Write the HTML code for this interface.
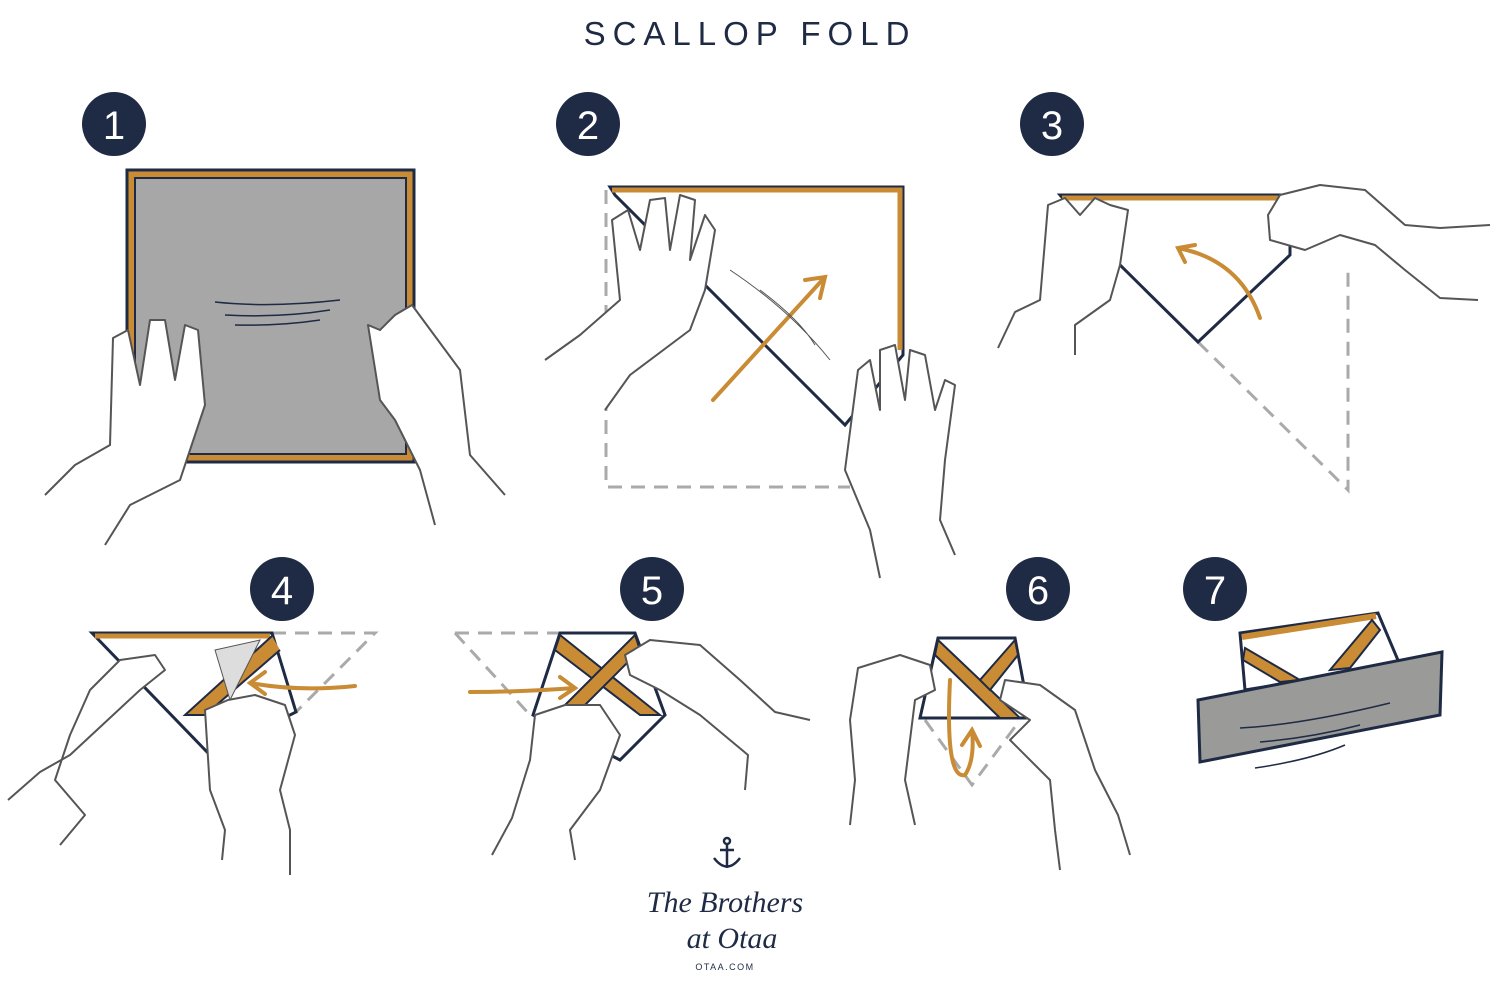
<!DOCTYPE html>
<html><head><meta charset="utf-8"><style>
html,body{margin:0;padding:0;background:#fff;}
svg{display:block;}
.n{font-family:"Liberation Sans",sans-serif;font-size:40px;fill:#fff;text-anchor:middle;}
.h{fill:#fff;stroke:#555;stroke-width:2;stroke-linejoin:round;}
.d{fill:none;stroke:#aaa;stroke-width:3;stroke-dasharray:14 9;}
.o{fill:none;stroke:#c98c35;stroke-width:4;stroke-linecap:round;}
</style></head><body>
<svg width="1500" height="996" viewBox="0 0 1500 996" xmlns="http://www.w3.org/2000/svg">
<text x="750" y="45" font-family="Liberation Sans,sans-serif" font-size="33" letter-spacing="7" fill="#1f2a44" text-anchor="middle">SCALLOP FOLD</text>

<g fill="#1f2a44">
<circle cx="114" cy="124" r="32"/><circle cx="588" cy="124" r="32"/><circle cx="1052" cy="124" r="32"/>
<circle cx="282" cy="589" r="32"/><circle cx="652" cy="589" r="32"/><circle cx="1038" cy="589" r="32"/><circle cx="1215" cy="589" r="32"/>
</g>
<text class="n" x="114" y="139">1</text><text class="n" x="588" y="139">2</text><text class="n" x="1052" y="139">3</text>
<text class="n" x="282" y="604">4</text><text class="n" x="652" y="604">5</text><text class="n" x="1038" y="604">6</text><text class="n" x="1215" y="604">7</text>

<!-- Step 1 -->
<rect x="127" y="170" width="287" height="292" fill="#c98c35" stroke="#1f2a44" stroke-width="3"/>
<rect x="135" y="178" width="271" height="276" fill="#a7a7a7" stroke="#1f2a44" stroke-width="2"/>
<path d="M215 302 Q270 308 340 300 M225 315 Q280 318 330 310 M235 325 Q280 326 320 320" stroke="#1f2a44" stroke-width="1.5" fill="none"/>
<path class="h" d="M105 545 L130 505 L180 480 L205 405 L198 330 L185 325 L175 380 L165 320 L150 320 L140 385 L128 330 L113 338 L110 445 L75 465 L45 495"/>
<path class="h" d="M505 495 L470 455 L460 370 L412 305 L395 315 L380 330 L368 325 L380 400 L395 420 L420 470 L435 525"/>

<!-- Step 2 -->
<path class="d" d="M606 190 L606 487 L850 487"/>
<path d="M610 187 L903 187 L903 355 L845 425 L615 195 Z" fill="#fff" stroke="#1f2a44" stroke-width="3"/>
<path d="M612 190 L900 190 L900 350" fill="none" stroke="#c98c35" stroke-width="5"/>
<path class="o" d="M713 400 L825 277 M805 280 L825 277 L820 298"/>
<path d="M730 270 Q790 310 830 360 M760 290 Q800 320 815 345" stroke="#555" fill="none"/>
<path class="h" d="M545 360 L580 335 L620 300 L612 220 L628 210 L640 250 L650 200 L665 198 L670 250 L680 195 L695 200 L690 260 L705 215 L715 230 L705 290 L690 330 L630 375 L605 410"/>
<path class="h" d="M955 555 L940 520 L945 460 L955 385 L945 380 L935 410 L925 355 L910 350 L905 400 L895 345 L880 350 L880 410 L870 360 L858 370 L845 470 L870 530 L880 578"/>

<!-- Step 3 -->
<path class="d" d="M1198 342 L1348 490 L1348 270"/>
<path d="M1060 195 L1290 195 L1290 255 L1198 342 L1120 265 Z" fill="#fff" stroke="#1f2a44" stroke-width="3"/>
<path d="M1062 198 L1288 198" stroke="#c98c35" stroke-width="5"/>
<path class="o" d="M1260 318 Q1240 260 1178 248 M1195 245 L1178 248 L1185 262"/>
<path class="h" d="M998 348 L1015 312 L1040 300 L1048 205 L1065 198 L1080 215 L1095 198 L1110 205 L1128 210 L1120 265 L1110 300 L1075 325 L1075 355"/>
<path class="h" d="M1478 300 L1440 298 L1405 270 L1375 245 L1340 235 L1305 250 L1270 240 L1268 215 L1280 195 L1320 185 L1365 190 L1405 225 L1440 228 L1490 225"/>

<!-- Step 4 -->
<path class="d" d="M272 633 L375 633 L296 712"/>
<path d="M92 633 L272 633 L296 712 L210 755 Z" fill="#fff" stroke="#1f2a44" stroke-width="3"/>
<path d="M95 636 L270 636" stroke="#c98c35" stroke-width="5"/>
<path d="M272 636 L185 715 L205 715 L280 650" fill="#c98c35" stroke="#1f2a44" stroke-width="2"/>
<path d="M215 650 L260 640 L230 700 Z" fill="#ddd" stroke="#555" stroke-width="1"/>
<path class="o" d="M355 686 Q300 692 250 683 M265 672 L250 683 L265 694"/>
<path class="h" d="M8 800 L40 772 L70 755 L140 690 L165 670 L155 655 L120 660 L90 690 L70 735 L55 780 L85 815 L60 845"/>
<path class="h" d="M222 860 L225 830 L210 790 L205 710 L228 700 L255 695 L285 705 L295 735 L280 790 L290 830 L290 875"/>

<!-- Step 5 -->
<path class="d" d="M455 633 L560 633 M455 633 L530 715"/>
<path d="M560 633 L635 633 L665 715 L620 760 L533 715 Z" fill="#fff" stroke="#1f2a44" stroke-width="3"/>
<path d="M560 635 L660 715 L640 715 L555 650 Z" fill="#c98c35" stroke="#1f2a44" stroke-width="2"/>
<path d="M635 635 L555 715 L575 715 L640 650 Z" fill="#c98c35" stroke="#1f2a44" stroke-width="2"/>
<path class="o" d="M470 692 Q520 692 575 688 M560 677 L575 688 L560 698"/>
<path class="h" d="M492 855 L512 818 L530 760 L535 715 L565 705 L600 705 L620 735 L600 790 L570 830 L575 860"/>
<path class="h" d="M810 720 L775 712 L740 680 L700 645 L650 640 L625 655 L630 675 L660 690 L700 715 L748 755 L745 790"/>

<!-- Step 6 -->
<path class="d" d="M925 720 L972 785 L1020 720"/>
<path d="M938 638 L1015 638 L1030 718 L920 718 Z" fill="#fff" stroke="#1f2a44" stroke-width="3"/>
<path d="M938 640 L1020 718 L1000 718 L935 655 Z" fill="#c98c35" stroke="#1f2a44" stroke-width="2"/>
<path d="M1015 640 L980 680 L990 690 L1018 655 Z" fill="#c98c35" stroke="#1f2a44" stroke-width="2"/>
<path class="o" d="M950 680 Q945 780 965 775 Q975 760 972 730 M962 745 L972 730 L980 746"/>
<path class="h" d="M850 825 L855 780 L850 720 L858 668 L900 655 L930 665 L935 690 L915 700 L910 740 L905 780 L915 825"/>
<path class="h" d="M1130 855 L1118 815 L1095 770 L1075 710 L1040 685 L1005 680 L1000 700 L1030 720 L1010 740 L1050 780 L1055 830 L1060 870"/>

<!-- Step 7 -->
<path d="M1240 633 L1378 613 L1400 665 L1245 690 Z" fill="#fff" stroke="#1f2a44" stroke-width="3"/>
<path d="M1242 637 L1376 616" stroke="#c98c35" stroke-width="6"/>
<path d="M1245 648 L1300 680 L1280 682 L1243 660 Z" fill="#c98c35" stroke="#1f2a44" stroke-width="2"/>
<path d="M1372 620 L1330 670 L1350 668 L1380 630 Z" fill="#c98c35" stroke="#1f2a44" stroke-width="2"/>
<path d="M1198 700 L1442 652 L1440 715 L1200 762 Z" fill="#9a9a98" stroke="#1f2a44" stroke-width="3"/>
<path d="M1240 728 Q1300 725 1390 703 M1260 742 Q1310 738 1360 725" stroke="#1f2a44" stroke-width="1.5" fill="none"/>
<path d="M1255 768 Q1310 760 1345 745" stroke="#1f2a44" stroke-width="1.5" fill="none"/>

<!-- Logo -->
<g fill="none" stroke="#1f2a44" stroke-width="2.5">
<circle cx="727" cy="841" r="3"/><path d="M727 844 L727 868 M720 850 L734 850 M714 858 Q727 875 740 858"/>
</g>
<text x="725" y="912" font-family="Liberation Serif,serif" font-style="italic" font-size="30" fill="#1f2a44" text-anchor="middle">The Brothers</text>
<text x="732" y="948" font-family="Liberation Serif,serif" font-style="italic" font-size="30" fill="#1f2a44" text-anchor="middle">at Otaa</text>
<text x="725" y="970" font-family="Liberation Sans,sans-serif" font-size="9" letter-spacing="1.5" fill="#1f2a44" text-anchor="middle">OTAA.COM</text>
</svg>
</body></html>
